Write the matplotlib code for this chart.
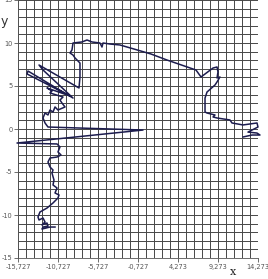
import matplotlib
matplotlib.use("Agg")
import matplotlib.pyplot as plt
from matplotlib.ticker import FixedLocator, FuncFormatter
import numpy as np

# path data (x, y)
xs = [12.40, 13.52, 14.52, 14.15, 13.02, 13.52, 14.27, 14.15, 12.40, 11.02, 10.77, 9.15, 8.65, 8.90,
      7.90, 7.65, 7.65, 7.90, 8.90, 9.15, 9.52, 9.15, 9.27, 9.15, 8.65, 7.15, 6.52, 2.90, 0.90, -1.23,
      -2.98, -4.23, -5.10, -5.23, -5.48, -6.48, -7.10, -7.73, -8.85, -8.98, -9.23, -8.85, -8.60, -7.98,
      -7.98, -8.10, -13.10, -12.60, -8.85, -14.48, -14.60, -9.23, -12.10, -11.48, -11.73, -10.10,
      -10.48, -10.23, -9.85, -10.73, -11.10, -11.35, -11.73, -11.98, -12.35, -12.60, -12.35, -11.98,
      -0.10, -15.85, -10.85, -10.48, -10.73, -10.35, -10.85, -11.73, -11.98, -11.73, -11.35, -11.48,
      -11.23, -11.35, -10.85, -11.10, -10.60, -10.73, -11.35, -12.10, -12.98, -13.23, -13.10, -12.60,
      -12.35, -12.73, -12.10, -11.98, -12.60, -12.73, -11.73, -11.10]
ys = [-0.93, -0.70, -0.70, -0.47, -0.36, -0.12, 0.23, 0.70, 0.47, 0.70, 1.05, 1.28, 1.40, 1.63,
      1.86, 1.98, 3.60, 4.30, 5.12, 5.47, 6.05, 5.93, 6.63, 7.21, 7.09, 6.05, 6.86, 8.02, 8.72, 9.30,
      9.77, 9.88, 10.00, 9.53, 10.00, 10.12, 10.35, 10.12, 10.00, 9.19, 8.84, 8.60, 8.26, 7.67,
      6.05, 4.77, 7.44, 6.86, 3.60, 6.74, 6.40, 3.84, 4.77, 4.42, 4.19, 3.72,
      3.37, 3.02, 2.56, 2.21, 2.56, 1.98, 2.21, 1.63, 1.86, 1.28, 0.70, 0.23,
      -0.12, -1.63, -1.74, -2.09, -2.67, -3.02, -3.26, -3.37, -3.84, -4.42, -4.77, -5.12,
      -5.93, -6.51, -6.86, -7.44, -7.67, -8.02, -8.60, -9.19, -9.65, -10.23, -10.58, -10.35,
      -10.81, -11.16, -10.93, -11.28, -11.40, -11.63, -11.40, -11.40]

x_ticks = [-15.727, -10.727, -5.727, -0.727, 4.273, 9.273, 14.273]
y_ticks = [-15, -10, -5, 0, 5, 10, 15]

fig = plt.figure(figsize=(2.68, 2.79), dpi=100)
ax = fig.add_axes([18/268, 21/279, 240/268, 258/279])
ax.set_xlim(-15.727, 14.273)
ax.set_ylim(-15, 15)

ax.xaxis.set_major_locator(FixedLocator(x_ticks))
ax.xaxis.set_minor_locator(FixedLocator(list(np.arange(-15.727, 14.3, 1.0))))
ax.yaxis.set_major_locator(FixedLocator(y_ticks))
ax.yaxis.set_minor_locator(FixedLocator(list(range(-15, 16))))
ax.xaxis.set_major_formatter(FuncFormatter(lambda v, p: f"{v:.3f}".replace('.', ',')))
ax.yaxis.set_major_formatter(FuncFormatter(lambda v, p: f"{v:.0f}"))
ax.grid(True, which='both', color='#474747', linewidth=0.7)
ax.tick_params(which='major', length=3, width=0.6, labelsize=4.8, labelcolor='#555555', pad=1, color='#555555')
ax.tick_params(which='minor', length=0)
for s in ['top', 'right']:
    ax.spines[s].set_visible(False)
for s in ['left', 'bottom']:
    ax.spines[s].set_color('#555555')
    ax.spines[s].set_linewidth(0.6)

ax.plot(xs, ys, color='#1c1c4e', linewidth=1.1, clip_on=False, zorder=3)

fig.text(1/268, 1 - 22/279, 'y', fontsize=9, family='DejaVu Sans', color='#333333', va='center')
fig.text(233/268, 1 - 272/279, 'x', fontsize=8, family='DejaVu Serif', color='#222222', ha='center', va='center')

fig.savefig('out.png', dpi=100)
